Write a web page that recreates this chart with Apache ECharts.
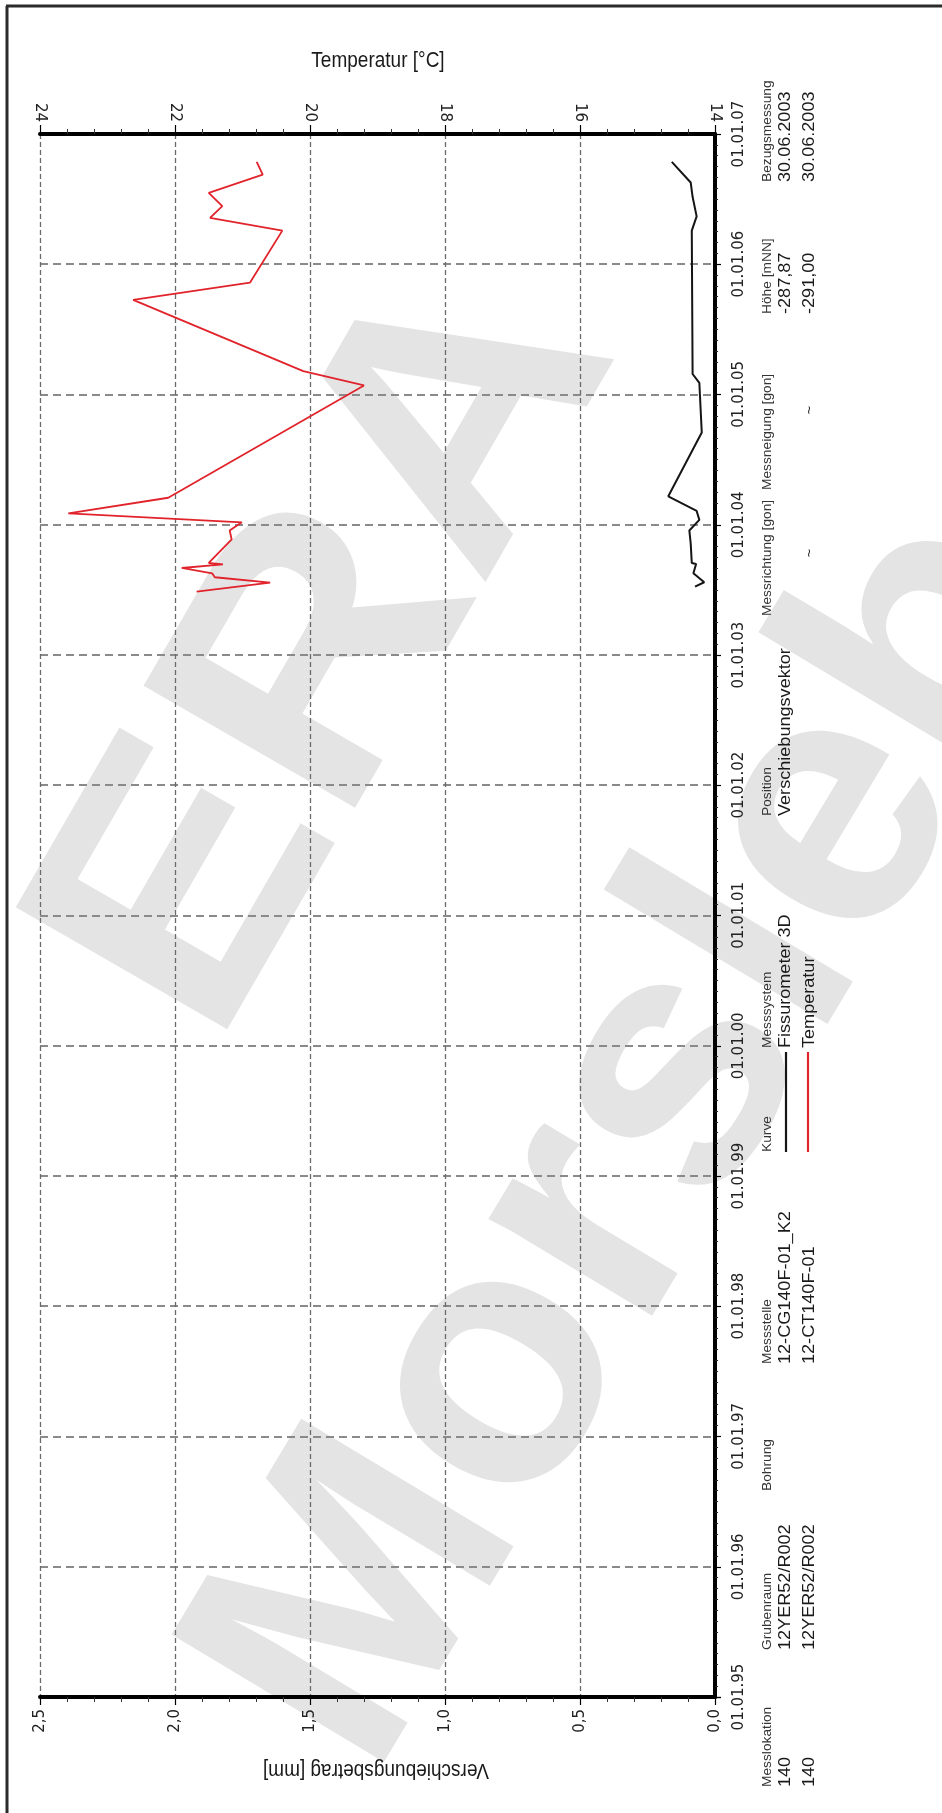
<!DOCTYPE html>
<html>
<head>
<meta charset="utf-8">
<script src="https://cdn.jsdelivr.net/npm/echarts@6/dist/echarts.min.js"></script>
<style>
html,body{margin:0;padding:0;background:#ffffff;}
#chart{width:942px;height:1813px;}
</style>
</head>
<body>
<div id="chart"></div>
<script>
// ---------------- data ----------------
const displacementDates = ['2003-07-12','2003-07-24','2003-08-18','2003-09-13','2003-09-16','2003-11-10','2003-12-16','2004-01-15','2004-02-09','2004-03-21','2004-09-16','2005-02-02','2005-02-27','2006-04-05','2006-05-15','2006-07-09','2006-08-18','2006-10-15'];
const displacementValues = [0.074,0.040,0.080,0.070,0.086,0.090,0.095,0.058,0.068,0.173,0.049,0.058,0.083,0.086,0.068,0.083,0.090,0.160];

const temperatureDates = ['2003-06-28','2003-07-23','2003-08-07','2003-08-18','2003-09-02','2003-09-12','2003-09-16','2003-11-21','2003-12-16','2004-01-08','2004-02-02','2004-03-17','2005-01-26','2005-03-07','2005-09-23','2005-11-10','2006-04-05','2006-05-11','2006-06-13','2006-07-20','2006-09-09','2006-10-15'];
const temperatureValues = [21.68,20.59,21.41,21.45,21.90,21.29,21.50,21.16,21.19,21.01,23.58,22.10,19.20,20.10,22.62,20.89,20.41,21.48,21.30,21.50,20.70,20.79];

const displacementAxisRange = [0, 2.5, 0.5];
const temperatureAxisRange = [14, 24, 2];
const timeAxisRange = ['1995-01-01', '2007-01-01'];

const displacementAxisName = 'Verschiebungsbetrag [mm]';
const temperatureAxisName = 'Temperatur [°C]';
const seriesNames = ['Fissurometer 3D', 'Temperatur'];

const infoHeaders = ['Messlokation','Grubenraum','Bohrung','Messstelle','Kurve','Messsystem','Position','Messrichtung [gon]','Messneigung [gon]','Höhe [mNN]','Bezugsmessung'];
const infoRow1 = ['140','12YER52/R002','','12-CG140F-01_K2','','Fissurometer 3D','Verschiebungsvektor','','','-287,87','30.06.2003'];
const infoRow2 = ['140','12YER52/R002','','12-CT140F-01','','Temperatur','','~','~','-291,00','30.06.2003'];

const watermarkWords = ['ERA', 'Morsleben'];

// ---------------- layout ----------------
const W = 942, H = 1813;
const plot = { left: 40, right: 715, top: 134, bottom: 1697 };
const infoStartY = [1787,1650,1491,1364,1152,1048,816,616,490,314,182];
const tildeCenterY = { 7: 553, 8: 410 };
const colX = { header: 768, row1: 786, row2: 810 };
const ROT = Math.PI / 2;
const textFont = '"Liberation Sans", Arial, Helvetica, sans-serif';
const tickFont = '"DejaVu Sans", Verdana, sans-serif';
const lineColors = ['#151515', '#e1232b'];

const displacementData = displacementDates.map((d, i) => [displacementValues[i], d]);
const temperatureData = temperatureDates.map((d, i) => [temperatureValues[i], d]);

const graphics = [];

// watermark
graphics.push({
  type: 'text', x: 332, y: 652, rotation: 60 * Math.PI / 180, scaleX: 1.08, z: -10, silent: true,
  style: { text: watermarkWords[0], fontSize: 355, fontWeight: 'bold', fontFamily: textFont, fill: '#e4e4e4',
           align: 'center', verticalAlign: 'middle', textAlign: 'center', textVerticalAlign: 'middle' }
});
graphics.push({
  type: 'text', x: 750, y: 960, rotation: 59 * Math.PI / 180, z: -10, silent: true,
  style: { text: watermarkWords[1], fontSize: 360, fontWeight: 'bold', fontFamily: textFont, fill: '#e4e4e4',
           align: 'center', verticalAlign: 'middle', textAlign: 'center', textVerticalAlign: 'middle' }
});

// frame
graphics.push({ type: 'line', shape: { x1: 6, y1: 6, x2: W, y2: 6 }, style: { stroke: '#2b2b2b', lineWidth: 3 } });
graphics.push({ type: 'line', shape: { x1: 7, y1: 6, x2: 7, y2: H }, style: { stroke: '#2b2b2b', lineWidth: 3 } });

// axis names
graphics.push({
  type: 'text', x: 378, y: 61, scaleY: 1.2,
  style: { text: temperatureAxisName, fontSize: 19, fontFamily: textFont, fill: '#1a1a1a',
           align: 'center', verticalAlign: 'middle', textAlign: 'center', textVerticalAlign: 'middle' }
});
graphics.push({
  type: 'text', x: 376, y: 1770, rotation: Math.PI, scaleY: 1.2,
  style: { text: displacementAxisName, fontSize: 19, fontFamily: textFont, fill: '#1a1a1a',
           align: 'center', verticalAlign: 'middle', textAlign: 'center', textVerticalAlign: 'middle' }
});

// info block
function rotText(txt, x, y, size, color, align, sx) {
  return {
    type: 'text', x: x, y: y, rotation: ROT, scaleX: sx,
    style: { text: txt, fontSize: size, fontFamily: textFont, fill: color,
             align: align, verticalAlign: 'middle', textAlign: align, textVerticalAlign: 'middle' }
  };
}
infoHeaders.forEach((h, i) => {
  graphics.push(rotText(h, colX.header, infoStartY[i], 12.5, '#333', 'left', 1.1));
  [infoRow1[i], infoRow2[i]].forEach((v, r) => {
    if (!v) return;
    const x = r === 0 ? colX.row1 : colX.row2;
    if (v === '~') {
      graphics.push(rotText(v, x, tildeCenterY[i], 15, '#222', 'center', 1.0));
    } else {
      graphics.push(rotText(v, x, infoStartY[i], 16, '#1a1a1a', 'left', 1.13));
    }
  });
});
// legend lines (Kurve column)
const kurveIdx = infoHeaders.indexOf('Kurve');
graphics.push({ type: 'line', shape: { x1: colX.row1, y1: infoStartY[kurveIdx], x2: colX.row1, y2: infoStartY[kurveIdx] - 100 },
  style: { stroke: lineColors[0], lineWidth: 2.2 } });
graphics.push({ type: 'line', shape: { x1: colX.row2 - 2, y1: infoStartY[kurveIdx], x2: colX.row2 - 2, y2: infoStartY[kurveIdx] - 100 },
  style: { stroke: lineColors[1], lineWidth: 2.2 } });

const chart = echarts.init(document.getElementById('chart'), null, { renderer: 'canvas', width: W, height: H });

const dayMs = 86400000;
const option = {
  animation: false,
  backgroundColor: '#ffffff',
  grid: { left: plot.left, right: W - plot.right, top: plot.top, bottom: H - plot.bottom, containLabel: false },
  xAxis: [
    {
      type: 'value', position: 'bottom', inverse: true,
      min: displacementAxisRange[0], max: displacementAxisRange[1], interval: displacementAxisRange[2],
      axisLine: { show: true, onZero: false, lineStyle: { color: '#000', width: 4 } },
      axisTick: { show: true, inside: false, length: 8, lineStyle: { color: '#000', width: 1.2 } },
      minorTick: { show: true, splitNumber: 5, length: 5, lineStyle: { color: '#333', width: 1 } },
      axisLabel: { rotate: 90, margin: 12, fontSize: 15, fontFamily: tickFont, color: '#222',
                   formatter: v => v.toFixed(1).replace('.', ',') },
      splitLine: { show: true, lineStyle: { color: '#6a6a6a', width: 1.3, type: [5, 3] } }
    },
    {
      type: 'value', position: 'top', inverse: true,
      min: temperatureAxisRange[0], max: temperatureAxisRange[1], interval: temperatureAxisRange[2],
      axisLine: { show: true, onZero: false, lineStyle: { color: '#000', width: 4 } },
      axisTick: { show: true, inside: false, length: 9, lineStyle: { color: '#000', width: 1.2 } },
      minorTick: { show: true, splitNumber: 5, length: 5, lineStyle: { color: '#333', width: 1 } },
      axisLabel: { rotate: 90, margin: 12, fontSize: 15, fontFamily: tickFont, color: '#222',
                   formatter: v => String(Math.round(v)) },
      splitLine: { show: false }
    }
  ],
  yAxis: [
    {
      type: 'time', position: 'right',
      min: timeAxisRange[0], max: timeAxisRange[1],
      minInterval: 365 * dayMs, maxInterval: 366 * dayMs, splitNumber: 12,
      axisLine: { show: true, onZero: false, lineStyle: { color: '#000', width: 4 } },
      axisTick: { show: true, inside: false, length: 6, lineStyle: { color: '#000', width: 1.2 } },
      minorTick: { show: true, splitNumber: 12, length: 3, lineStyle: { color: '#222', width: 1 } },
      axisLabel: { rotate: 90, margin: 17, fontSize: 15, fontFamily: tickFont, color: '#222',
                   formatter: '{dd}.{MM}.{yy}', showMinLabel: true, showMaxLabel: true,
                   hideOverlap: false },
      splitLine: { show: true, lineStyle: { color: '#8a8a8a', width: 2, type: [8, 5] } }
    }
  ],
  series: [
    {
      name: seriesNames[0], type: 'line', xAxisIndex: 0, yAxisIndex: 0,
      data: displacementData, showSymbol: false, symbol: 'none', z: 5,
      lineStyle: { color: lineColors[0], width: 2 }
    },
    {
      name: seriesNames[1], type: 'line', xAxisIndex: 1, yAxisIndex: 0,
      data: temperatureData, showSymbol: false, symbol: 'none', z: 6,
      lineStyle: { color: lineColors[1], width: 1.8 }
    }
  ],
  graphic: { elements: graphics }
};
chart.setOption(option);
</script>
</body>
</html>
